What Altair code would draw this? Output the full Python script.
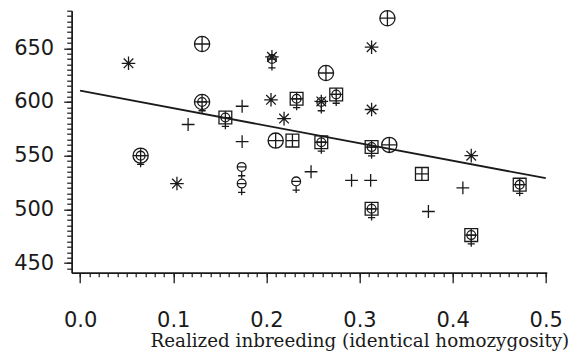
import altair as alt
import pandas as pd

# ---- data ----
asterisk_x = [0.052, 0.206, 0.205, 0.219, 0.259, 0.313, 0.313, 0.420, 0.104]
asterisk_y = [636.0, 642.0, 602.0, 584.5, 600.5, 651.0, 593.0, 550.0, 524.0]

plus_x = [0.116, 0.174, 0.174, 0.248, 0.2915, 0.312, 0.411, 0.374]
plus_y = [579.0, 596.0, 563.0, 535.0, 527.0, 527.0, 520.0, 498.0]

circ_x = [0.131, 0.330, 0.264, 0.210, 0.332, 0.131, 0.065]
circ_y = [654.0, 678.0, 627.0, 564.0, 560.0, 600.0, 550.0]

sq_x = [0.228, 0.367, 0.156, 0.2325, 0.275, 0.259, 0.313, 0.313, 0.472, 0.420]
sq_y = [564.0, 533.0, 585.5, 603.0, 607.0, 562.5, 558.0, 500.5, 523.0, 476.0]

venus_x = [0.131, 0.065, 0.156, 0.2325, 0.275, 0.259, 0.313, 0.313, 0.472, 0.420,
           0.1735, 0.1735, 0.232, 0.206, 0.259]
venus_y = [600.0, 550.0, 585.5, 603.0, 607.0, 562.5, 558.0, 500.5, 523.0, 476.0,
           539.5, 524.0, 526.0, 640.0, 600.0]

fit_x = [0.0, 0.5]
fit_y = [610.5, 529.0]

x_minor_ticks = [round(i * 0.01, 2) for i in range(51)]
x_major_ticks = [0.0, 0.1, 0.2, 0.3, 0.4, 0.5]
y_minor_ticks = list(range(445, 686, 5))
y_major_ticks = [450, 500, 550, 600, 650]

kinds = ["asterisk", "plus", "circle", "square", "venus"]
paths = [
    "M0,-0.85L0,0.85M-0.85,0L0.85,0M-0.6,-0.6L0.6,0.6M-0.6,0.6L0.6,-0.6",
    "M-0.8,0L0.8,0M0,-0.8L0,0.8",
    "M-0.95,0A0.95,0.95 0 1,0 0.95,0A0.95,0.95 0 1,0 -0.95,0ZM-0.95,0L0.95,0M0,-0.95L0,0.95",
    "M-0.8,-0.8L0.8,-0.8L0.8,0.8L-0.8,0.8ZM-0.8,0L0.8,0M0,-0.8L0,0.8",
    "M-0.55,0A0.55,0.55 0 1,0 0.55,0A0.55,0.55 0 1,0 -0.55,0ZM-0.55,0L0.55,0M0,0.55L0,1.45M-0.45,1.1L0.45,1.1",
]

rows = []
for k, xs, ys in [("asterisk", asterisk_x, asterisk_y), ("plus", plus_x, plus_y),
                  ("circle", circ_x, circ_y), ("square", sq_x, sq_y),
                  ("venus", venus_x, venus_y)]:
    for xv, yv in zip(xs, ys):
        rows.append({"kind": k, "x": xv, "y": yv})
df = pd.DataFrame(rows)
fit_df = pd.DataFrame({"x": fit_x, "y": fit_y})

ink = "#1a1a1a"
x_scale = alt.Scale(domain=[-0.009, 0.501], nice=False, zero=False)
y_scale = alt.Scale(domain=[441, 685], nice=False, zero=False)

pts = alt.Chart(df).mark_point(filled=False, size=256, strokeWidth=1.3, color=ink, opacity=1).encode(
    x=alt.X("x:Q", scale=x_scale,
            axis=alt.Axis(values=x_minor_ticks, labels=False, tickSize=4, title="", grid=False,
                          orient="bottom", domainColor=ink, tickColor=ink, domainWidth=1.4, tickWidth=1.2)),
    y=alt.Y("y:Q", scale=y_scale,
            axis=alt.Axis(values=y_minor_ticks, labels=False, tickSize=5, title="", grid=False,
                          orient="left", domainColor=ink, tickColor=ink, domainWidth=1.4, tickWidth=1.2)),
    shape=alt.Shape("kind:N", scale=alt.Scale(domain=kinds, range=paths), legend=None),
)

line = alt.Chart(fit_df).mark_line(color=ink, strokeWidth=1.8).encode(
    x=alt.X("x:Q", scale=x_scale,
            axis=alt.Axis(values=x_major_ticks, format=".1f", tickSize=10, grid=False, orient="bottom",
                          domainColor=ink, tickColor=ink, domainWidth=1.4, tickWidth=1.3,
                          labelFont="DejaVu Sans", labelFontSize=21, labelColor=ink,
                          labelPadding=38, labelBaseline="middle", labelFlush=False,
                          title="Realized inbreeding (identical homozygosity)",
                          titleFont="DejaVu Serif", titleFontSize=18.3, titleFontWeight="normal",
                          titleColor=ink, titleAnchor="end", titleAlign="right",
                          titleBaseline="alphabetic", titleX=497, titleY=74)),
    y=alt.Y("y:Q", scale=y_scale,
            axis=alt.Axis(values=y_major_ticks, format="d", tickSize=8, grid=False, orient="left",
                          domainColor=ink, tickColor=ink, domainWidth=1.4, tickWidth=1.3,
                          labelFont="DejaVu Sans", labelFontSize=21, labelColor=ink,
                          labelPadding=10, title="")),
)

chart = alt.layer(pts, line).resolve_axis(x="independent", y="independent").properties(
    width=475, height=262,
    padding={"left": 63.7, "top": 2.7, "right": 23, "bottom": 79},
    autosize=alt.AutoSizeParams(type="none"),
).configure_view(stroke=None)

chart.save("out.html", embed_options={"renderer": "svg", "actions": False})
